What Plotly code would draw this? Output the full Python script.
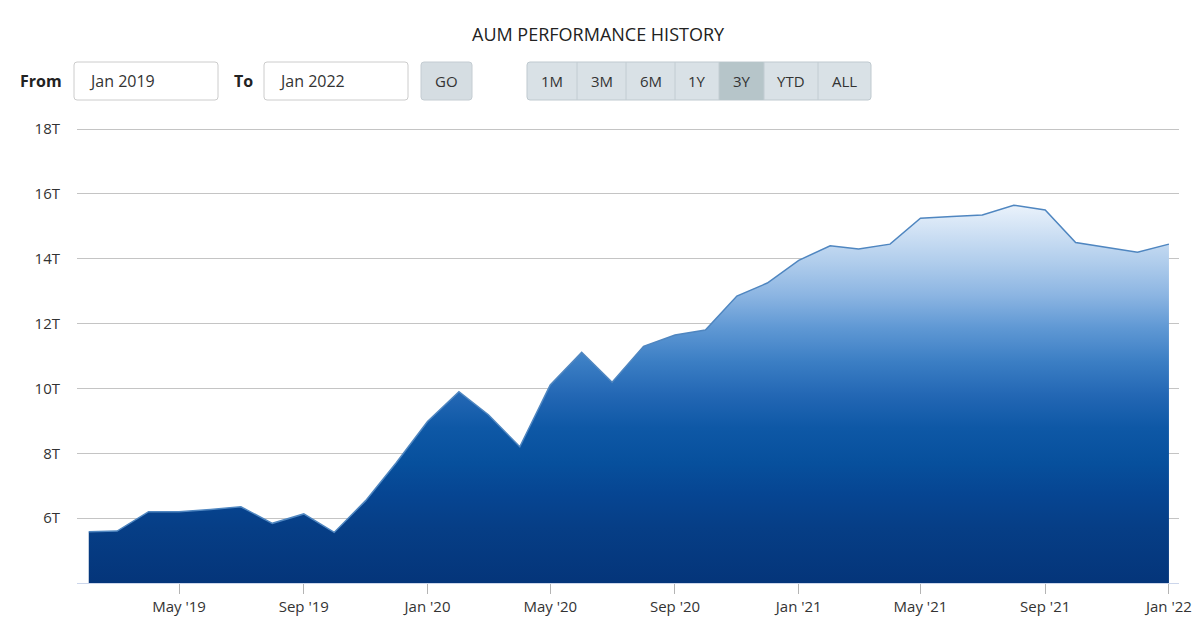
import plotly.graph_objects as go
import pandas as pd

# ---- data (values in trillions) ----
months = pd.date_range("2019-02-01", periods=36, freq="MS").strftime("%Y-%m-%d").tolist()
aum = [5.58, 5.60, 6.20, 6.20, 6.27, 6.35, 5.84, 6.13, 5.56, 6.54, 7.70, 8.98,
       9.90, 9.19, 8.20, 10.11, 11.11, 10.19, 11.30, 11.65, 11.80, 12.85, 13.25, 13.95,
       14.40, 14.30, 14.45, 15.25, 15.30, 15.35, 15.65, 15.50, 14.50, 14.35, 14.20, 14.45]

x_tick_vals = ["2019-05-01", "2019-09-01", "2020-01-01", "2020-05-01", "2020-09-01",
               "2021-01-01", "2021-05-01", "2021-09-01", "2022-01-01"]
x_tick_text = ["May '19", "Sep '19", "Jan '20", "May '20", "Sep '20",
               "Jan '21", "May '21", "Sep '21", "Jan '22"]
y_tick_vals = [6, 8, 10, 12, 14, 16, 18]
y_tick_text = ["6T", "8T", "10T", "12T", "14T", "16T", "18T"]

range_buttons = ["1M", "3M", "6M", "1Y", "3Y", "YTD", "ALL"]
active_button = "3Y"
from_label, to_label = "Jan 2019", "Jan 2022"

# ---- geometry helpers (pixel -> paper) ----
W, H = 1200, 634
L, R, T, B = 77, 21, 126, 51
PW, PH = W - L - R, H - T - B
Y_MIN = 4
Y_MAX = Y_MIN + PH / ((583 - 129) / 14.0)  # keeps 18T at y=129 with a little headroom


def px(x):
    return (x - L) / PW


def py(y):
    return (H - B - y) / PH


def rrect(x0, y0, x1, y1, r=3):
    rx, ry = r / PW, r / PH
    X0, X1, Y0, Y1 = px(x0), px(x1), py(y0), py(y1)  # Y0 top, Y1 bottom
    return (f"M {X0+rx},{Y0} L {X1-rx},{Y0} Q {X1},{Y0} {X1},{Y0-ry} "
            f"L {X1},{Y1+ry} Q {X1},{Y1} {X1-rx},{Y1} L {X0+rx},{Y1} "
            f"Q {X0},{Y1} {X0},{Y1+ry} L {X0},{Y0-ry} Q {X0},{Y0} {X0+rx},{Y0} Z")


FONT = "Open Sans"
fig = go.Figure()
fig.add_trace(go.Scatter(
    x=months, y=aum, mode="lines", fill="tozeroy",
    line=dict(color="#4f86c0", width=1.5),
    fillgradient=dict(type="vertical", start=4, stop=max(aum),
                      colorscale=[[0.0, "#04357a"], [0.146, "#063e86"], [0.233, "#064592"],
                                  [0.32, "#07509d"], [0.41, "#0e58a6"], [0.497, "#2367b4"],
                                  [0.585, "#3b7ec4"], [0.675, "#5f98d4"], [0.762, "#8cb5e2"],
                                  [0.849, "#b0cdec"], [1.0, "#eaf2fb"]]),
    hoverinfo="x+y", showlegend=False,
))

shapes = []
annotations = []

# title
annotations.append(dict(text="AUM PERFORMANCE HISTORY", x=px(598), y=py(34), xref="paper", yref="paper",
                        showarrow=False, xanchor="center", yanchor="middle",
                        font=dict(family=FONT, size=18, color="#222222")))

# From / To inputs
annotations.append(dict(text="<b>From</b>", x=px(18), y=py(81), xref="paper", yref="paper", showarrow=False,
                        xanchor="left", yanchor="middle", font=dict(family=FONT, size=16, color="#222222")))
annotations.append(dict(text="<b>To</b>", x=px(232), y=py(81), xref="paper", yref="paper", showarrow=False,
                        xanchor="left", yanchor="middle", font=dict(family=FONT, size=16, color="#222222")))
for (x0, x1, txt) in [(74, 218, from_label), (264, 408, to_label)]:
    shapes.append(dict(type="path", path=rrect(x0, 62, x1, 100), xref="paper", yref="paper",
                       fillcolor="white", line=dict(color="#cccccc", width=1)))
    annotations.append(dict(text=txt, x=px(x0 + 13), y=py(81), xref="paper", yref="paper", showarrow=False,
                            xanchor="left", yanchor="middle", font=dict(family=FONT, size=16, color="#333333")))

# GO button
shapes.append(dict(type="path", path=rrect(421, 62, 472, 100), xref="paper", yref="paper",
                   fillcolor="#d5dde2", line=dict(color="#c4ccd2", width=1)))
annotations.append(dict(text="GO", x=px(446.5), y=py(81), xref="paper", yref="paper", showarrow=False,
                        xanchor="center", yanchor="middle", font=dict(family=FONT, size=15, color="#333333")))

# range buttons
edges = [527, 577, 626, 675, 719, 764, 818, 871]
shapes.append(dict(type="path", path=rrect(527, 62, 871, 100), xref="paper", yref="paper",
                   fillcolor="#d9e1e6", line=dict(color="#bfc9cf", width=1)))
for i, lab in enumerate(range_buttons):
    x0, x1 = edges[i], edges[i + 1]
    if lab == active_button:
        shapes.append(dict(type="rect", x0=px(x0), x1=px(x1), y0=py(100), y1=py(62), xref="paper", yref="paper",
                           fillcolor="#b6c5c9", line=dict(width=0)))
    if i > 0:
        shapes.append(dict(type="line", x0=px(x0), x1=px(x0), y0=py(100), y1=py(62), xref="paper", yref="paper",
                           line=dict(color="#c2ccd2", width=1)))
    annotations.append(dict(text=lab, x=px((x0 + x1) / 2), y=py(81), xref="paper", yref="paper", showarrow=False,
                            xanchor="center", yanchor="middle", font=dict(family=FONT, size=15, color="#333333")))

fig.update_layout(
    width=W, height=H,
    margin=dict(l=L, r=R, t=T, b=B, pad=0, autoexpand=False),
    paper_bgcolor="white", plot_bgcolor="white",
    shapes=shapes, annotations=annotations,
    font=dict(family=FONT, color="#333333"),
    xaxis=dict(
        type="date", range=["2019-01-20 10:00", "2022-01-10 22:00"],
        tickvals=x_tick_vals, ticktext=x_tick_text, automargin=False,
        ticks="outside", ticklen=10, tickcolor="#b4b4b4", tickwidth=1,
        showline=True, linecolor="#ccd6eb", linewidth=1,
        showgrid=False, zeroline=False, layer="above traces",
        tickfont=dict(family=FONT, size=15, color="#333333"),
    ),
    yaxis=dict(
        range=[Y_MIN, Y_MAX], tickvals=y_tick_vals, ticktext=y_tick_text, automargin=False,
        showgrid=True, gridcolor="#c4c4c4", gridwidth=1,
        zeroline=False, showline=False, ticks="",
        ticklabelstandoff=16,
        tickfont=dict(family=FONT, size=15, color="#333333"),
    ),
)

fig.write_html("out.html")
